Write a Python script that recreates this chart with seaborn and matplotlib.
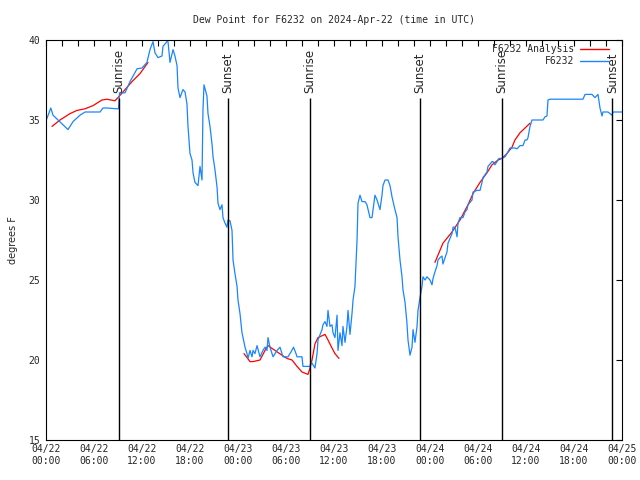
import matplotlib
matplotlib.use("Agg")
import matplotlib.pyplot as plt
import matplotlib.dates as mdates
from matplotlib.lines import Line2D
import seaborn as sns
import pandas as pd

# observed dew point (hours after 2024-04-22 00:00 UTC, degrees F)
obs_hours = [
    0.0, 0.12, 0.6, 0.88, 1.5, 2.12, 2.75, 3.25, 3.38, 4.25,
    4.88, 6.75, 7.12, 7.62, 8.88, 9.06, 9.19, 9.88, 10.5, 11.38,
    12.0, 12.62, 13.0, 13.38, 13.62, 14.0, 14.5, 14.62, 15.12, 15.25,
    15.5, 15.88, 16.12, 16.38, 16.5, 16.75, 17.12, 17.38, 17.62, 17.75,
    18.0, 18.25, 18.38, 18.62, 19.0, 19.25, 19.5, 19.62, 19.75, 20.12,
    20.25, 20.5, 20.75, 20.88, 21.12, 21.38, 21.5, 21.75, 22.0, 22.12,
    22.38, 22.62, 22.75, 23.0, 23.25, 23.38, 23.62, 23.88, 24.0, 24.25,
    24.5, 24.88, 25.12, 25.25, 25.5, 25.75, 25.88, 26.12, 26.38, 26.75,
    27.12, 27.38, 27.62, 27.75, 28.0, 28.38, 28.88, 29.25, 29.62, 30.25,
    30.62, 30.94, 31.25, 31.38, 32.0, 32.12, 33.0, 33.12, 33.38, 33.62,
    33.88, 34.0, 34.5, 34.62, 34.88, 35.12, 35.25, 35.5, 35.75, 35.88,
    36.12, 36.38, 36.5, 36.75, 37.0, 37.12, 37.38, 37.62, 37.75, 38.0,
    38.25, 38.38, 38.62, 38.88, 39.0, 39.25, 39.5, 39.88, 40.12, 40.5,
    40.75, 40.88, 41.12, 41.38, 41.5, 41.75, 42.0, 42.12, 42.38, 42.75,
    43.0, 43.25, 43.62, 43.88, 44.0, 44.25, 44.5, 44.62, 44.88, 45.12,
    45.25, 45.5, 45.75, 45.88, 46.12, 46.38, 46.5, 46.75, 47.0, 47.12,
    47.38, 47.62, 48.0, 48.25, 48.38, 48.62, 48.88, 49.0, 49.25, 49.5,
    49.62, 49.88, 50.12, 50.25, 50.5, 50.75, 50.88, 51.12, 51.38, 51.5,
    51.75, 52.12, 52.38, 52.62, 52.75, 53.25, 53.38, 53.88, 54.25, 54.5,
    54.62, 55.12, 55.25, 55.75, 55.88, 56.12, 56.38, 56.62, 57.0, 57.38,
    57.62, 58.0, 58.62, 58.88, 59.25, 59.62, 59.88, 60.12, 60.25, 60.5,
    60.75, 62.12, 62.38, 62.62, 62.75, 63.0, 67.12, 67.38, 68.25, 68.62,
    69.0, 69.25, 69.5, 69.62, 70.25, 70.75, 70.88, 72.0,
]
obs_dewpt = [
    35.0, 35.1, 35.75, 35.3, 35.0, 34.7, 34.4, 34.8, 34.9, 35.3,
    35.5, 35.5, 35.75, 35.75, 35.7, 35.7, 36.7, 36.7, 37.4, 38.2,
    38.25, 38.6, 39.4, 39.9, 39.2, 38.9, 39.0, 39.6, 39.9, 39.9,
    38.6, 39.4, 39.0, 38.4, 37.0, 36.4, 36.9, 36.75, 36.0, 34.6,
    32.9, 32.5, 31.7, 31.1, 30.9, 32.1, 31.25, 35.6, 37.2, 36.5,
    35.4, 34.6, 33.5, 32.7, 31.9, 30.8, 29.8, 29.4, 29.7, 28.9,
    28.55, 28.3, 28.75, 28.7, 28.1, 26.25, 25.4, 24.6, 23.75, 22.9,
    21.7, 20.8, 20.4, 20.1, 20.6, 20.2, 20.6, 20.4, 20.9, 20.2,
    20.6, 20.8, 20.6, 21.4, 20.8, 20.2, 20.6, 20.8, 20.2, 20.2,
    20.5, 20.8, 20.4, 20.2, 20.2, 19.6, 19.6, 19.9, 19.7, 19.5,
    20.4, 21.25, 21.9, 22.2, 22.4, 22.1, 23.1, 22.1, 22.2, 21.7,
    21.4, 22.8, 20.6, 21.7, 20.9, 22.1, 21.1, 22.1, 23.1, 21.6,
    22.9, 23.75, 24.6, 27.5, 29.8, 30.3, 29.9, 29.9, 29.7, 28.9,
    28.9, 29.4, 30.3, 30.0, 29.8, 29.4, 30.3, 30.9, 31.25, 31.25,
    30.9, 30.2, 29.4, 28.9, 27.7, 26.25, 25.2, 24.4, 23.6, 22.3,
    21.25, 20.3, 20.8, 21.9, 21.1, 22.1, 23.1, 23.9, 24.6, 25.2,
    25.0, 25.2, 25.0, 24.7, 25.1, 25.5, 25.9, 26.25, 26.4, 26.5,
    26.0, 26.4, 26.75, 27.3, 27.6, 27.9, 28.3, 28.3, 27.7, 28.55,
    28.9, 28.9, 29.25, 29.4, 29.7, 30.0, 30.5, 30.6, 30.6, 31.1,
    31.4, 31.75, 32.1, 32.4, 32.4, 32.2, 32.4, 32.6, 32.6, 32.7,
    32.9, 33.25, 33.25, 33.2, 33.4, 33.4, 33.75, 33.75, 33.9, 34.6,
    35.0, 35.0, 35.2, 35.25, 36.25, 36.3, 36.3, 36.6, 36.6, 36.4,
    36.6, 35.75, 35.25, 35.5, 35.5, 35.3, 35.5, 35.5,
]

# analysis dew point (three separate runs)
ana_hours = [
    0.75, 1.75, 3.0, 3.88, 4.88, 5.88, 7.0, 7.62, 8.62, 9.0, 9.88, 10.75, 11.75, 12.75,
    24.75, 25.5, 25.88, 26.75, 27.38, 27.75, 28.62, 29.5, 30.12, 30.75, 31.38,
    32.0, 32.75, 33.0, 33.25, 33.62, 34.0, 34.88, 35.25, 35.75, 36.12, 36.62,
    48.62, 49.62, 50.75, 51.75, 52.75, 53.38, 54.25, 55.12, 55.75, 56.5, 57.0,
    57.62, 58.25, 58.62, 59.25, 59.88, 60.5,
]
ana_dewpt = [
    34.6, 35.0, 35.4, 35.6, 35.7, 35.9, 36.25, 36.3, 36.2, 36.4, 36.9, 37.4, 37.9, 38.6,
    20.4, 19.9, 19.9, 20.0, 20.6, 20.9, 20.6, 20.3, 20.1, 20.0, 19.6,
    19.25, 19.1, 19.5, 20.0, 21.0, 21.4, 21.6, 21.25, 20.75, 20.4, 20.1,
    26.1, 27.3, 28.0, 28.75, 29.7, 30.4, 31.1, 31.7, 32.2, 32.5, 32.6,
    32.9, 33.3, 33.75, 34.2, 34.5, 34.8,
]

# sunrise / sunset marks (hours after start)
sun_hours = [9.07, 22.77, 33.03, 46.78, 56.95, 70.8]
sun_labels = ["Sunrise", "Sunset", "Sunrise", "Sunset", "Sunrise", "Sunset"]

RED = "#ff0000"
BLUE = "#1a85ff"
MONO = ["DejaVu Sans Mono"]

t0 = pd.Timestamp("2024-04-22 00:00")
obs = pd.DataFrame({"time": t0 + pd.to_timedelta(obs_hours, unit="h"), "dewpt": obs_dewpt})
ana = pd.DataFrame({"hours": ana_hours, "dewpt": ana_dewpt})
ana["time"] = t0 + pd.to_timedelta(ana["hours"], unit="h")
ana["run"] = (ana["hours"].diff() > 3).cumsum()

sns.set_style("white")
plt.rcParams["font.family"] = ["DejaVu Sans"]

fig = plt.figure(figsize=(6.4, 4.8), dpi=100)
ax = fig.add_axes([46 / 640, 40 / 480, 576 / 640, 400 / 480])

sns.lineplot(data=ana, x="time", y="dewpt", units="run", estimator=None,
             color=RED, lw=0.9, ax=ax)
sns.lineplot(data=obs, x="time", y="dewpt", estimator=None,
             color=BLUE, lw=0.9, ax=ax)

# sunrise / sunset lines with labels
for h, lab in zip(sun_hours, sun_labels):
    t = t0 + pd.Timedelta(hours=h)
    ax.vlines(t, 15, 36.4, color="black", lw=1)
    ax.text(t, 36.7, lab, rotation=90, ha="center", va="bottom", fontsize=8.5)

ax.set_xlim(t0, t0 + pd.Timedelta(hours=72))
ax.set_ylim(15, 40)
ax.set_yticks(range(15, 41, 5))
ax.xaxis.set_major_locator(mdates.HourLocator(byhour=[0, 6, 12, 18]))
ax.xaxis.set_minor_locator(mdates.HourLocator(byhour=range(0, 24, 2)))
ax.xaxis.set_major_formatter(mdates.DateFormatter("%m/%d\n%H:%M"))
ax.tick_params(which="both", direction="in", top=True, right=True,
               length=4, width=0.8, color="black", labelsize=7, pad=4)
ax.tick_params(axis="x", pad=3)
for lab in ax.get_xticklabels() + ax.get_yticklabels():
    lab.set_family(MONO)

for sp in ax.spines.values():
    sp.set_color("black")
    sp.set_linewidth(0.8)

ax.set_xlabel("")
ax.set_ylabel("degrees F", fontsize=7, labelpad=8)
ax.set_title("Dew Point for F6232 on 2024-Apr-22 (time in UTC)",
             fontsize=7, family=MONO, pad=12)

handles = [Line2D([], [], color=RED, lw=1), Line2D([], [], color=BLUE, lw=1)]
ax.legend(handles, ["F6232 Analysis", "F6232"], loc="upper right",
          bbox_to_anchor=(0.977, 0.99), frameon=False, markerfirst=False,
          borderpad=0, borderaxespad=0, handlelength=3.0, handletextpad=0.6,
          labelspacing=0.25, prop={"family": MONO, "size": 7})

fig.savefig("out.png", dpi=100)
